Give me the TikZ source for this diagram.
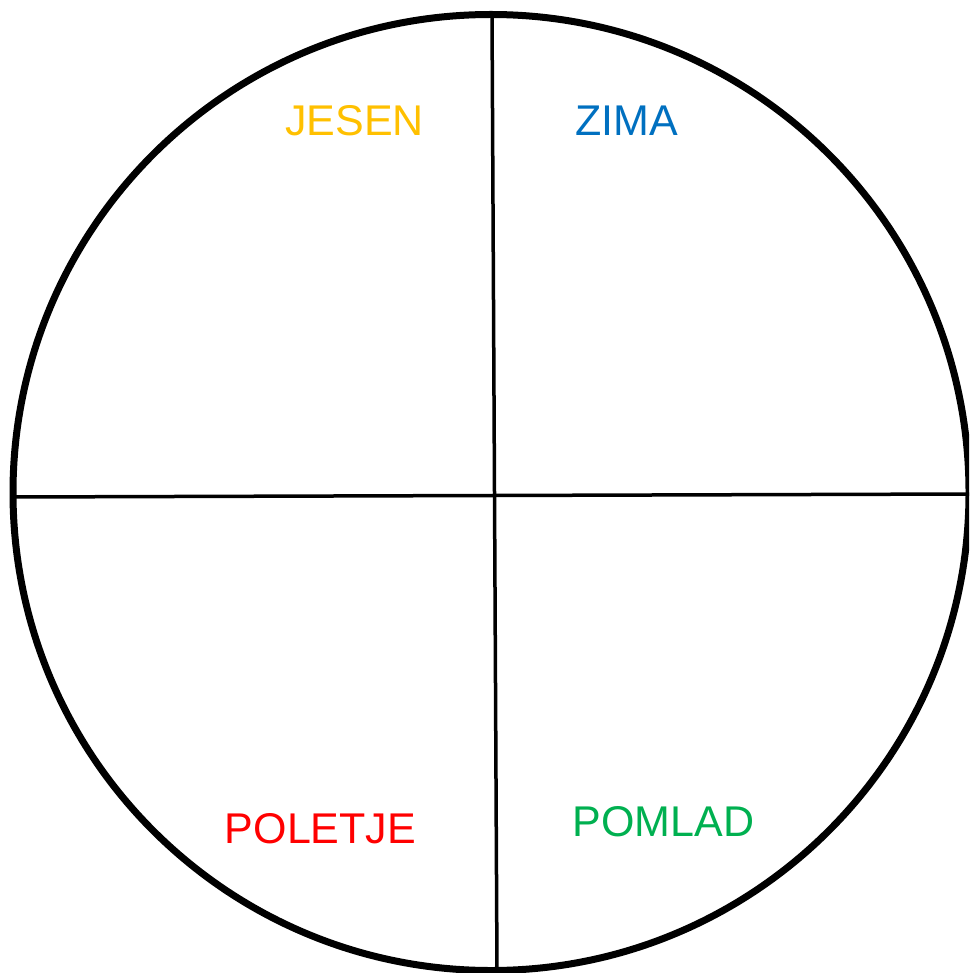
\documentclass[tikz,border=0pt]{standalone}
\usepackage{fontspec}
\setmainfont{Liberation Sans}
\definecolor{jesen}{HTML}{FFC000}
\definecolor{zima}{HTML}{0070C0}
\definecolor{poletje}{HTML}{FF0000}
\definecolor{pomlad}{HTML}{00B050}
\begin{document}
\begin{tikzpicture}[x=1pt,y=-1pt,
  season/.style={inner sep=0pt,font=\fontsize{43}{50}\selectfont}]
\useasboundingbox (0,0) rectangle (969,973);
\clip (0,0) rectangle (969,973);
\draw[line width=7pt] (491,492.5) circle[radius=478];
\coordinate (top) at (492,14);
\coordinate (bot) at (497,972);
\coordinate (lft) at (14,497);
\coordinate (rgt) at (969,494);
\draw[line width=3.5pt] (top) -- (bot);
\draw[line width=3.5pt] (lft) -- (rgt);
\node[season,text=jesen] (jesen) at (354.5,120.5) {JESEN};
\node[season,text=zima] (zima) at (626.5,121) {ZIMA};
\node[season,text=poletje] (poletje) at (320.5,828.5) {POLETJE};
\node[season,text=pomlad] (pomlad) at (663.5,821.5) {POMLAD};
\end{tikzpicture}
\end{document}
